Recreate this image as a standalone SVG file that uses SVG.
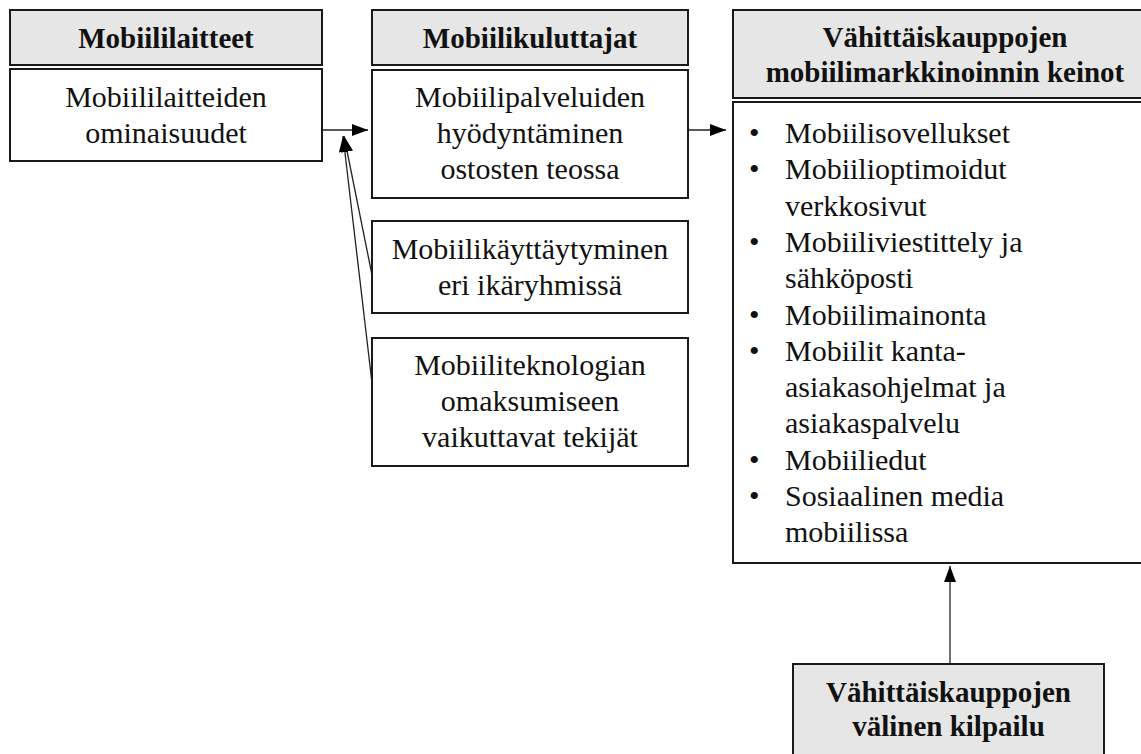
<svg xmlns="http://www.w3.org/2000/svg" width="1141" height="754" viewBox="0 0 1141 754">
  <style>
    .box { fill: #ffffff; stroke: #1a1a1a; stroke-width: 2; }
    .head { fill: #e6e6e6; stroke: #1a1a1a; stroke-width: 2; }
    .t { font-family: "Liberation Serif", "Times New Roman", serif; font-size: 30px; fill: #111; text-anchor: middle; }
    .tb { font-family: "Liberation Serif", "Times New Roman", serif; font-size: 29px; font-weight: bold; fill: #111; text-anchor: middle; }
    .li { font-family: "Liberation Serif", "Times New Roman", serif; font-size: 30px; fill: #111; }
    .conn { stroke: #222; stroke-width: 1.3; fill: none; marker-end: url(#arrow); }
  </style>
  <defs>
    <marker id="arrow" viewBox="0 0 16 12" refX="16" refY="6" markerWidth="16" markerHeight="12" markerUnits="userSpaceOnUse" orient="auto">
      <path d="M0,0 L16,6 L0,12 Z" fill="#000"/>
    </marker>
  </defs>
  <rect width="1141" height="754" fill="#ffffff"/>

  <g id="connectors">
    <line class="conn" x1="323" y1="130" x2="368" y2="130"/>
    <line class="conn" x1="688" y1="130" x2="726" y2="130"/>
    <line class="conn" x1="372" y1="275" x2="344" y2="136"/>
    <line class="conn" x1="372" y1="383" x2="343" y2="136"/>
    <line class="conn" x1="950" y1="664" x2="950" y2="566"/>
  </g>

  <g id="mobiililaitteet-header">
    <rect class="head" x="10" y="10" width="312" height="55"/>
    <text class="tb" x="166" y="48">Mobiililaitteet</text>
  </g>
  <g id="mobiililaitteiden-ominaisuudet">
    <rect class="box" x="10" y="69" width="312" height="92"/>
    <text class="t" x="166" y="107">Mobiililaitteiden</text>
    <text class="t" x="166" y="143">ominaisuudet</text>
  </g>

  <g id="mobiilikuluttajat-header">
    <rect class="head" x="372" y="10" width="316" height="55"/>
    <text class="tb" x="530" y="48">Mobiilikuluttajat</text>
  </g>
  <g id="mobiilipalveluiden-hyodyntaminen">
    <rect class="box" x="372" y="70" width="316" height="128"/>
    <text class="t" x="530" y="107">Mobiilipalveluiden</text>
    <text class="t" x="530" y="143">hyödyntäminen</text>
    <text class="t" x="530" y="179">ostosten teossa</text>
  </g>
  <g id="mobiilikayttaytyminen">
    <rect class="box" x="372" y="221" width="316" height="92"/>
    <text class="t" x="530" y="259">Mobiilikäyttäytyminen</text>
    <text class="t" x="530" y="295">eri ikäryhmissä</text>
  </g>
  <g id="mobiiliteknologian-omaksuminen">
    <rect class="box" x="372" y="338" width="316" height="128"/>
    <text class="t" x="530" y="375">Mobiiliteknologian</text>
    <text class="t" x="530" y="411">omaksumiseen</text>
    <text class="t" x="530" y="447">vaikuttavat tekijät</text>
  </g>

  <g id="keinot-header">
    <rect class="head" x="733" y="10" width="424" height="88"/>
    <text class="tb" x="945" y="47">Vähittäiskauppojen</text>
    <text class="tb" x="945" y="82">mobiilimarkkinoinnin keinot</text>
  </g>
  <g id="keinot-list">
    <rect class="box" x="733" y="102" width="424" height="461"/>
    <g class="li">
      <text x="749" y="143">•</text><text x="785" y="143">Mobiilisovellukset</text>
      <text x="749" y="179">•</text><text x="785" y="179">Mobiilioptimoidut</text>
      <text x="785" y="216">verkkosivut</text>
      <text x="749" y="252">•</text><text x="785" y="252">Mobiiliviestittely ja</text>
      <text x="785" y="288">sähköposti</text>
      <text x="749" y="325">•</text><text x="785" y="325">Mobiilimainonta</text>
      <text x="749" y="361">•</text><text x="785" y="361">Mobiilit kanta-</text>
      <text x="785" y="397">asiakasohjelmat ja</text>
      <text x="785" y="433">asiakaspalvelu</text>
      <text x="749" y="470">•</text><text x="785" y="470">Mobiiliedut</text>
      <text x="749" y="506">•</text><text x="785" y="506">Sosiaalinen media</text>
      <text x="785" y="542">mobiilissa</text>
    </g>
  </g>

  <g id="kilpailu">
    <rect class="head" x="793" y="664" width="311" height="110"/>
    <text class="tb" x="948.5" y="702">Vähittäiskauppojen</text>
    <text class="tb" x="948.5" y="736">välinen kilpailu</text>
  </g>
</svg>
